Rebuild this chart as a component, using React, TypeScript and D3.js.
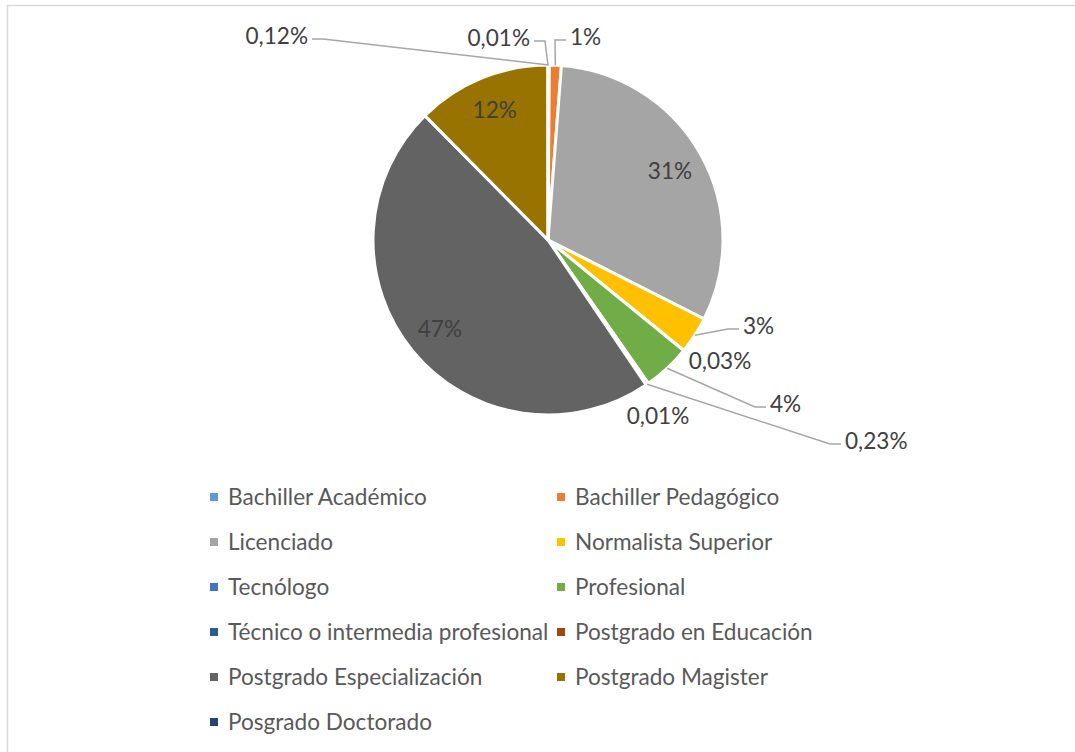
import React from "react";
import * as d3 from "d3";

const categories = [
  "Bachiller Académico",
  "Bachiller Pedagógico",
  "Licenciado",
  "Normalista Superior",
  "Tecnólogo",
  "Profesional",
  "Técnico o intermedia profesional",
  "Postgrado en Educación",
  "Postgrado Especialización",
  "Postgrado Magister",
  "Posgrado Doctorado",
];
const values = [0.12, 1.1, 31.2, 3.4, 0.03, 4.4, 0.01, 0.23, 47.0, 12.4, 0.01];
const valueLabels = ["0,12%", "1%", "31%", "3%", "0,03%", "4%", "0,01%", "0,23%", "47%", "12%", "0,01%"];
const colors = [
  "#5B9BD5", "#ED7D31", "#A5A5A5", "#FFC000", "#4472C4", "#70AD47",
  "#255E91", "#9E480E", "#636363", "#997300", "#264478",
];

// label placement relative to pie centre (null = inside the slice)
type LabelPos = { dx: number; dy: number; anchor: "start" | "end" | "middle"; leader: boolean } | null;
const labelLayout: LabelPos[] = [
  { dx: -240, dy: -204, anchor: "end", leader: true },
  { dx: 22, dy: -203, anchor: "start", leader: true },
  null,
  { dx: 195, dy: 86, anchor: "start", leader: true },
  { dx: 172, dy: 121, anchor: "middle", leader: false },
  { dx: 222, dy: 164, anchor: "start", leader: true },
  { dx: 110, dy: 176, anchor: "middle", leader: false },
  { dx: 297, dy: 201, anchor: "start", leader: true },
  null,
  null,
  { dx: -18, dy: -202, anchor: "end", leader: true },
];

const W = 1075;
const H = 752;
const cx = 548;
const cy = 240;
const R = 175;
const font = "Lato, 'Noto Sans', sans-serif";
const fs = 22.6;

export default function App() {
  const pie = d3.pie<number>().sort(null).startAngle(0).endAngle(Math.PI * 2);
  const arcs = pie(values);
  const arc = d3.arc<d3.PieArcDatum<number>>().innerRadius(0).outerRadius(R);
  const edge = d3.arc<d3.PieArcDatum<number>>().innerRadius(R).outerRadius(R);
  const inner = d3.arc<d3.PieArcDatum<number>>().innerRadius(R * 0.8).outerRadius(R * 0.8);

  const legendX = d3.scaleOrdinal<number, number>().domain([0, 1]).range([214, 561]);
  const legendY = d3.scaleLinear().domain([0, 1]).range([497, 542]);

  return (
    <svg width={W} height={H} style={{ position: "absolute", left: 0, top: 0, background: "#fff" }}>
      <rect x={7.5} y={5.5} width={W + 10} height={H + 10} fill="#fff" stroke="#D9D9D9" strokeWidth={1.5} />
      <g transform={`translate(${cx},${cy})`}>
        {arcs.map((a, i) => (
          <path key={i} d={arc(a) || ""} fill={colors[i]} stroke="#fff" strokeWidth={3} strokeLinejoin="round" />
        ))}
        {arcs.map((a, i) => {
          const lp = labelLayout[i];
          if (!lp) {
            const [x, y] = inner.centroid(a);
            return (
              <text key={i} x={x} y={y} dy="0.35em" textAnchor="middle" fontFamily={font} fontSize={fs} fill="#404040">
                {valueLabels[i]}
              </text>
            );
          }
          const [px, py] = edge.centroid(a);
          const ly = lp.dy + 3;
          const dir = lp.anchor === "end" ? 1 : -1;
          const e0 = lp.dx + dir * 4;
          const e1 = lp.dx + dir * 15;
          return (
            <g key={i}>
              {lp.leader && (
                <polyline
                  points={`${e0},${ly} ${e1},${ly} ${px},${py}`}
                  fill="none"
                  stroke="#A6A6A6"
                  strokeWidth={1.5}
                />
              )}
              <text x={lp.dx} y={lp.dy} dy="0.35em" textAnchor={lp.anchor} fontFamily={font} fontSize={fs} fill="#404040">
                {valueLabels[i]}
              </text>
            </g>
          );
        })}
      </g>
      <g>
        {categories.map((c, i) => {
          const col = i % 2;
          const row = Math.floor(i / 2);
          const x = legendX(col);
          const y = legendY(row);
          return (
            <g key={c} transform={`translate(${x},${y})`}>
              <rect x={-4} y={-4} width={8} height={8} fill={colors[i]} />
              <text x={14} y={0} dy="0.35em" fontFamily={font} fontSize={fs} fill="#595959">
                {c}
              </text>
            </g>
          );
        })}
      </g>
    </svg>
  );
}
